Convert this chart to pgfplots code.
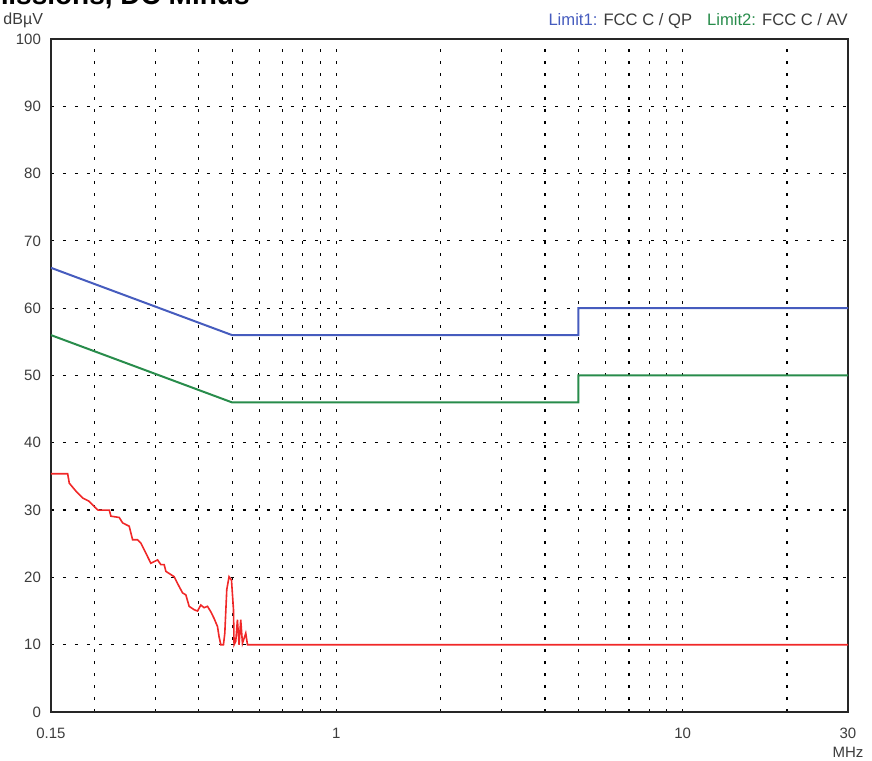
\documentclass[border=0pt]{standalone}
\usepackage{fontspec}
\setmainfont{Liberation Sans}
\usepackage{pgfplots}
\pgfplotsset{compat=1.18}
\definecolor{limblue}{RGB}{70,92,190}
\definecolor{limgreen}{RGB}{40,140,75}
\definecolor{meas}{RGB}{240,40,40}
\definecolor{txt}{RGB}{60,60,60}
\begin{document}
\begin{tikzpicture}
\begin{axis}[
  name=ax, at={(0,0)}, anchor=south west,
  scale only axis, width=398.5pt, height=336.5pt,
  xmode=log, xmin=0.15, xmax=30, ymin=0, ymax=100,
  ytick={0,10,...,100},
  xtick={0.15,1,10,30}, xticklabels={0.15,1,10,30},
  minor xtick={0.2,0.3,0.4,0.5,0.6,0.7,0.8,0.9,2,3,4,5,6,7,8,9,20},
  xmajorgrids, xminorgrids, ymajorgrids,
  major grid style={black, line width=0.6pt, dash pattern=on 1.6pt off 4.4pt},
  minor grid style={black, line width=0.6pt, dash pattern=on 1.6pt off 4.4pt},
  major tick length=0pt, minor tick length=0pt,
  axis line style={black!85, line width=0.65pt},
  /pgf/number format/assume math mode=true,
  tick label style={font=\fontsize{7.5}{9}\selectfont, text=txt},
  yticklabel style={xshift=-1.5pt},
  xticklabel style={yshift=-4.5pt},
]
\addplot[limblue, line width=1pt] coordinates {(0.15,66) (0.5,56) (5,56) (5,60) (30,60)};
\addplot[limgreen, line width=1pt] coordinates {(0.15,56) (0.5,46) (5,46) (5,50) (30,50)};
\addplot[meas, line width=0.8pt] coordinates {
(0.15,35.4) (0.1676,35.4) (0.1694,34.0) (0.1772,32.8) (0.1851,31.8) (0.1934,31.3)
(0.2022,30.3) (0.2050,30.0) (0.2210,30.0) (0.2234,29.1) (0.2361,28.9) (0.2415,28.1)
(0.2523,27.6) (0.2580,25.6) (0.2667,25.6) (0.2726,25.1) (0.2819,23.6) (0.2913,22.1)
(0.3047,22.6) (0.3113,21.9) (0.3183,21.9) (0.3219,20.9) (0.3402,20.1) (0.3479,19.1)
(0.3597,17.7) (0.3677,17.4) (0.3758,15.7) (0.3885,15.2) (0.3974,15.0) (0.4061,15.9)
(0.4150,15.5) (0.4245,15.7) (0.4340,14.9) (0.4436,13.9) (0.4537,12.7) (0.4585,11.2)
(0.4638,10.0) (0.4721,10.0) (0.4763,11.7) (0.4826,18.2) (0.4900,20.1) (0.4980,19.6)
(0.5046,15.2) (0.5066,10.0) (0.5123,10.5) (0.5180,13.7) (0.5237,10.0) (0.5295,13.7)
(0.5356,10.2) (0.5475,11.7) (0.5538,10.0) (30,10)};
\end{axis}
\node[anchor=base east, font=\fontsize{8}{9}\selectfont, text=txt] at ([xshift=-0.5pt, yshift=7pt]ax.north west) {dBµV};
\node[anchor=base east, font=\fontsize{8.3}{10}\selectfont, text=txt, inner sep=0pt] at ([yshift=6.5pt]ax.north east)
  {{\color{limblue}Limit1:} FCC C / QP\hspace{7.5pt}{\color{limgreen}Limit2:} FCC C / AV};
\node[anchor=base, font=\fontsize{7.5}{9}\selectfont, text=txt] at ([yshift=-22.5pt]ax.south east) {MHz};
\node[anchor=base east, font=\bfseries\fontsize{14}{16}\selectfont, text=black, inner sep=0pt] at ([xshift=99.5pt, yshift=17pt]ax.north west) {Conducted Emissions, DC Minus};
\pgfresetboundingbox
\path[use as bounding box] ([xshift=-25.5pt, yshift=-24pt]ax.south west) rectangle ([xshift=12pt, yshift=19.5pt]ax.north east);
\end{tikzpicture}
\end{document}
